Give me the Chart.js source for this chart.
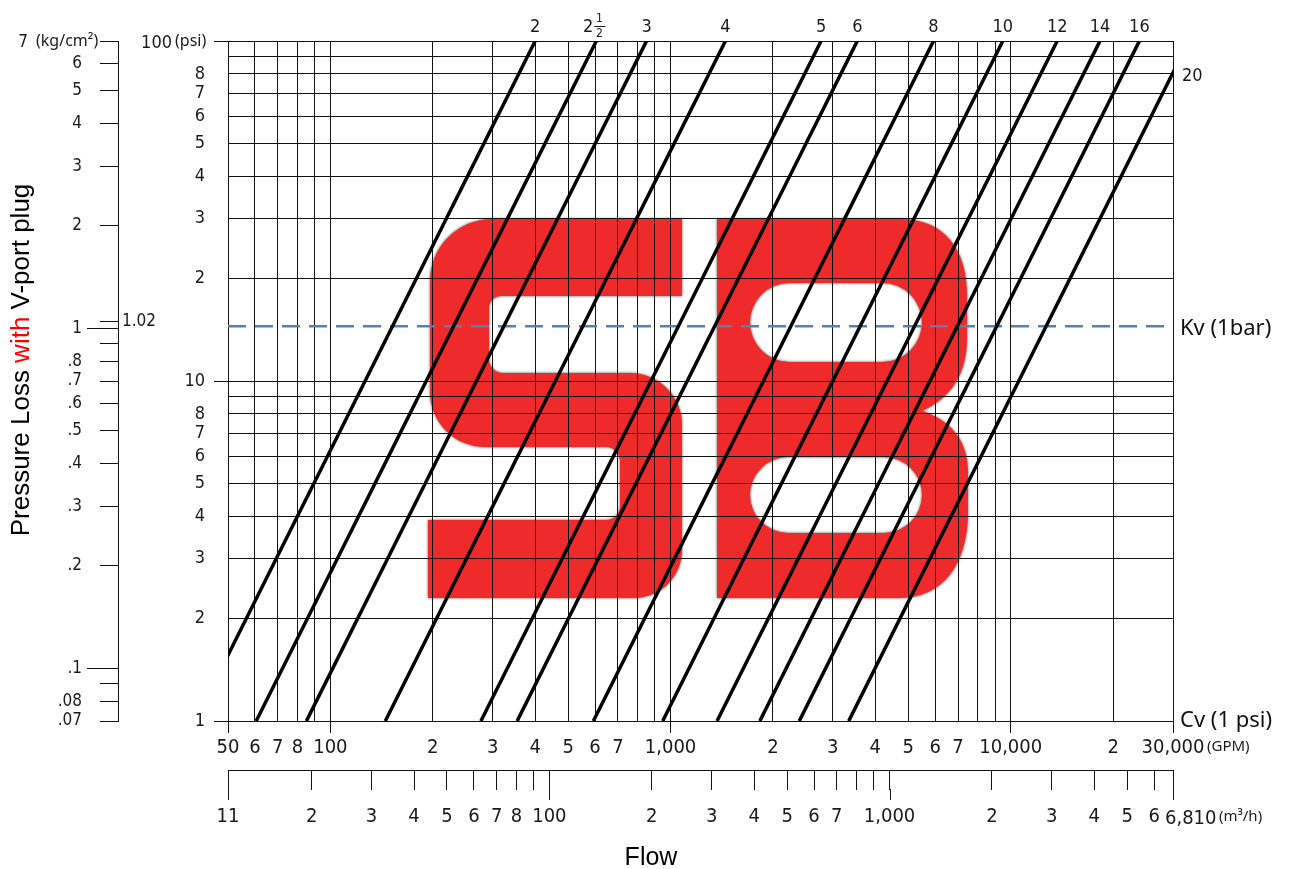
<!DOCTYPE html>
<html>
<head>
<meta charset="utf-8">
<title>Pressure Loss with V-port plug</title>
<script src="https://cdn.jsdelivr.net/npm/chart.js@4.4.0/dist/chart.umd.min.js"></script>
<style>
  html, body { margin: 0; padding: 0; background: #fff; }
  canvas { display: block; }
</style>
</head>
<body>
<canvas id="flowChart" width="1292" height="869"></canvas>
<script>
// valve sizes (inch) and their Cv = flow in GPM at 1 psi
const valveSizes = ['2', '2½', '3', '4', '5', '6', '8', '10', '12', '14', '16', '20'];
const cvValues = [40, 60.5, 85, 145, 277, 354, 593, 948, 1370, 1830, 2390, 3340];

// flow axis (GPM)
const gpmMin = 50;
const gpmMax = 30000;
const gpmTicks = [50, 60, 70, 80, 90, 100, 200, 300, 400, 500, 600, 700, 800, 900,
  1000, 2000, 3000, 4000, 5000, 6000, 7000, 8000, 9000, 10000, 20000, 30000];
const gpmLabels = ['50', '6', '7', '8', '', '100', '2', '3', '4', '5', '6', '7', '', '',
  '1,000', '2', '3', '4', '5', '6', '7', '', '', '10,000', '2', '30,000'];
const gpmLong = [50, 100, 1000, 10000, 30000];

// flow axis (m3/h)
const m3hMin = 11.356;
const m3hMax = 6813.7;
const m3hTicks = [11.356, 20, 30, 40, 50, 60, 70, 80, 90, 100, 200, 300, 400, 500, 600, 700, 800, 900,
  1000, 2000, 3000, 4000, 5000, 6000, 6813.7];
const m3hLabels = ['11', '2', '3', '4', '5', '6', '7', '8', '', '100', '2', '3', '4', '5', '6', '7', '', '',
  '1,000', '2', '3', '4', '5', '6', ''];
const m3hLong = [11.356, 100, 1000, 6813.7];

// pressure axis (psi)
const psiMin = 1;
const psiMax = 100;
const psiTicks = [1, 2, 3, 4, 5, 6, 7, 8, 9, 10, 20, 30, 40, 50, 60, 70, 80, 90, 100];
const psiLabels = ['1', '2', '3', '4', '5', '6', '7', '8', '', '10', '2', '3', '4', '5', '6', '7', '8', '', ''];
const psiLong = [1, 10, 100];

// pressure axis (kg/cm2)
const kgMin = 0.07;
const kgMax = 7;
const kgTicks = [0.07, 0.08, 0.09, 0.1, 0.2, 0.3, 0.4, 0.5, 0.6, 0.7, 0.8, 0.9, 1, 2, 3, 4, 5, 6, 7];
const kgLabels = ['.07', '.08', '', '.1', '.2', '.3', '.4', '.5', '.6', '.7', '.8', '', '1', '2', '3', '4', '5', '6', ''];
const kgLong = [1, 0.1];

// Kv reference line: 1 bar = 14.5 psi
const kvPsi = 14.5;

const CAD_FONT = '"DejaVu Sans Condensed", "DejaVu Sans", sans-serif';
const TEXT_FONT = '"Liberation Sans", Arial, sans-serif';
const NOTE_FONT = '"Noto Sans", "Open Sans", sans-serif';
const LINE_COLOR = '#111';

function stadium(ctx, l, t, r, b) {
    const rad = (b - t) / 2;
    ctx.moveTo(l + rad, t);
    ctx.lineTo(r - rad, t);
    ctx.arc(r - rad, t + rad, rad, -Math.PI / 2, Math.PI / 2);
    ctx.lineTo(l + rad, b);
    ctx.arc(l + rad, t + rad, rad, Math.PI / 2, Math.PI * 1.5);
    ctx.closePath();
}

// red "SB" watermark behind the grid
function drawLogo(ctx) {
    ctx.save();
    ctx.fillStyle = '#ef2a2a';
    ctx.shadowColor = 'rgba(30, 0, 0, 0.7)';
    ctx.shadowBlur = 3;

    ctx.beginPath();
    ctx.moveTo(682, 219);
    ctx.lineTo(682, 296);
    ctx.arcTo(489, 296, 489, 373, 12);
    ctx.arcTo(489, 373, 682, 373, 14);
    ctx.arcTo(682, 373, 682, 598, 52);
    ctx.arcTo(682, 598, 428, 598, 48);
    ctx.lineTo(428, 598);
    ctx.lineTo(428, 520);
    ctx.arcTo(620, 520, 620, 447, 14);
    ctx.arcTo(620, 447, 430, 447, 14);
    ctx.arcTo(430, 447, 430, 219, 55);
    ctx.arcTo(430, 219, 682, 219, 62);
    ctx.closePath();
    ctx.fill();

    ctx.beginPath();
    ctx.moveTo(717, 219);
    ctx.lineTo(900, 219);
    ctx.bezierCurveTo(945, 219, 967, 250, 967, 295);
    ctx.lineTo(967, 338);
    ctx.bezierCurveTo(967, 378, 947, 400, 922, 411);
    ctx.bezierCurveTo(950, 420, 968, 440, 968, 472);
    ctx.lineTo(968, 512);
    ctx.bezierCurveTo(968, 565, 942, 598, 900, 598);
    ctx.lineTo(717, 598);
    ctx.closePath();
    stadium(ctx, 750, 283, 922, 362);
    stadium(ctx, 750, 457, 922, 533);
    ctx.fill('evenodd');
    ctx.restore();
}

function text(ctx, str, x, y, font, align, baseline, color) {
    ctx.font = font;
    ctx.textAlign = align || 'left';
    ctx.textBaseline = baseline || 'middle';
    ctx.fillStyle = color || '#1a1a1a';
    ctx.fillText(str, x, y);
}

function seg(ctx, x1, y1, x2, y2) {
    ctx.beginPath();
    ctx.moveTo(x1, y1);
    ctx.lineTo(x2, y2);
    ctx.stroke();
}

const decorPlugin = {
    id: 'decor',
    beforeDraw(chart) {
        const ctx = chart.ctx;
        ctx.save();
        ctx.fillStyle = '#fff';
        ctx.fillRect(0, 0, chart.width, chart.height);
        ctx.restore();
        drawLogo(ctx);
    },
    afterDraw(chart) {
        const ctx = chart.ctx;
        const { x, y, yKg, x2 } = chart.scales;
        const area = chart.chartArea;
        ctx.save();
        ctx.strokeStyle = LINE_COLOR;
        ctx.lineWidth = 1;

        // longer ticks on the kg/cm2 axis and the 1.02 mark
        kgLong.forEach(v => {
            const py = Math.round(yKg.getPixelForValue(v)) + 0.5;
            seg(ctx, yKg.right - 31, py, yKg.right - 17, py);
        });
        const p102 = Math.round(yKg.getPixelForValue(1.02)) - 3.5;
        seg(ctx, yKg.right - 18, p102, yKg.right, p102);
        text(ctx, '1.02', yKg.right + 4, p102, '17px ' + CAD_FONT);

        // longer ticks on the m3/h axis
        m3hLong.forEach(v => {
            const px = Math.round(x2.getPixelForValue(v)) + 0.5;
            seg(ctx, px, x2.top + 19, px, x2.top + 30);
        });

        // unit labels
        const topKg = yKg.getPixelForValue(kgMax);
        text(ctx, '7', 28, topKg + 2, '17px ' + CAD_FONT, 'right');
        text(ctx, '(kg/cm²)', 36, topKg, '16px ' + NOTE_FONT, 'left');
        text(ctx, '100', 172, area.top + 2, '18px ' + CAD_FONT, 'right');
        text(ctx, '(psi)', 175, area.top, '16px ' + NOTE_FONT, 'left');
        text(ctx, '(GPM)', area.right + 34, 747, '15px ' + NOTE_FONT, 'left');
        text(ctx, '6,810', area.right - 8, 819, '20px ' + CAD_FONT, 'left');
        text(ctx, '(m³/h)', area.right + 46, 817, '15px ' + NOTE_FONT, 'left');

        // valve size labels at the top end of each line
        cvValues.forEach((cv, i) => {
            const topFlow = cv * Math.sqrt(psiMax);
            const label = valveSizes[i];
            if (topFlow <= x.max) {
                const px = x.getPixelForValue(topFlow);
                if (label === '2½') {
                    text(ctx, '2', px - 3, area.top - 14, '18px ' + CAD_FONT, 'right');
                    text(ctx, '1', px + 3, area.top - 22, '12px ' + CAD_FONT, 'center');
                    seg(ctx, px - 2, area.top - 14.5, px + 9, area.top - 14.5);
                    text(ctx, '2', px + 3, area.top - 7, '12px ' + CAD_FONT, 'center');
                } else {
                    text(ctx, label, px, area.top - 14, '18px ' + CAD_FONT, 'center');
                }
            } else {
                const py = y.getPixelForValue(Math.pow(x.max / cv, 2));
                text(ctx, label, area.right + 9, py + 4, '18px ' + CAD_FONT, 'left');
            }
        });

        // reference line labels
        text(ctx, 'Kv (1bar)', area.right + 7, y.getPixelForValue(kvPsi) + 3, '22px ' + NOTE_FONT, 'left', 'middle', '#111');
        text(ctx, 'Cv (1 psi)', area.right + 7, y.getPixelForValue(psiMin), '22px ' + NOTE_FONT, 'left', 'middle', '#111');

        // axis titles
        text(ctx, 'Flow', 651, 865, '25px ' + TEXT_FONT, 'center', 'alphabetic', '#000');
        ctx.translate(29, 360);
        ctx.rotate(-Math.PI / 2);
        ctx.font = '26px ' + TEXT_FONT;
        const parts = [['Pressure Loss ', '#000'], ['with', '#ff0000'], [' V-port plug', '#000']];
        const total = parts.reduce((s, p) => s + ctx.measureText(p[0]).width, 0);
        let cx = -total / 2;
        parts.forEach(p => {
            text(ctx, p[0], cx, 0, '26px ' + TEXT_FONT, 'left', 'alphabetic', p[1]);
            cx += ctx.measureText(p[0]).width;
        });
        ctx.restore();
    }
};

function setTicks(values) {
    return function (scale) {
        scale.ticks = values.map(v => ({ value: v }));
    };
}

function labelFrom(labels) {
    return function (value, index) {
        return labels[index];
    };
}

const sizeDatasets = cvValues.map((cv, i) => ({
    label: valveSizes[i],
    data: [{ x: cv, y: psiMin }, { x: cv * Math.sqrt(psiMax), y: psiMax }],
    showLine: true,
    borderColor: '#000',
    borderWidth: 3.5,
    pointRadius: 0,
    xAxisID: 'x',
    yAxisID: 'y'
}));

const kvDataset = {
    label: 'Kv (1bar)',
    data: [{ x: gpmMin, y: kvPsi }, { x: gpmMax, y: kvPsi }],
    showLine: true,
    borderColor: '#4f81bd',
    borderWidth: 2.5,
    borderDash: [18, 9],
    pointRadius: 0,
    xAxisID: 'x',
    yAxisID: 'y'
};

new Chart(document.getElementById('flowChart'), {
    type: 'scatter',
    data: { datasets: sizeDatasets.concat([kvDataset]) },
    options: {
        responsive: false,
        devicePixelRatio: 1,
        animation: false,
        layout: { padding: { left: 0, right: 119, top: 41, bottom: 39 } },
        plugins: { legend: { display: false }, tooltip: { enabled: false } },
        scales: {
            x: {
                type: 'logarithmic',
                position: 'bottom',
                min: gpmMin,
                max: gpmMax,
                afterBuildTicks: setTicks(gpmTicks),
                afterFit: scale => { scale.height = 49; },
                grid: {
                    color: LINE_COLOR,
                    lineWidth: 1,
                    tickLength: 12,
                    tickColor: c => gpmLong.includes(c.tick && c.tick.value) ? LINE_COLOR : 'rgba(0,0,0,0)'
                },
                border: { display: true, color: LINE_COLOR },
                ticks: {
                    autoSkip: false,
                    maxRotation: 0,
                    padding: 3,
                    color: '#1a1a1a',
                    font: { family: CAD_FONT, size: 20 },
                    callback: labelFrom(gpmLabels)
                }
            },
            x2: {
                type: 'logarithmic',
                position: 'bottom',
                weight: 1,
                min: m3hMin,
                max: m3hMax,
                afterBuildTicks: setTicks(m3hTicks),
                afterFit: scale => { scale.height = 60; },
                grid: { drawOnChartArea: false, color: LINE_COLOR, tickLength: 20 },
                border: { display: true, color: LINE_COLOR },
                ticks: {
                    autoSkip: false,
                    maxRotation: 0,
                    padding: 15,
                    color: '#1a1a1a',
                    font: { family: CAD_FONT, size: 20 },
                    callback: labelFrom(m3hLabels)
                }
            },
            y: {
                type: 'logarithmic',
                position: 'left',
                min: psiMin,
                max: psiMax,
                afterBuildTicks: setTicks(psiTicks),
                afterFit: scale => { scale.width = 110; },
                grid: {
                    color: LINE_COLOR,
                    lineWidth: 1,
                    tickLength: 14,
                    tickColor: c => psiLong.includes(c.tick && c.tick.value) ? LINE_COLOR : 'rgba(0,0,0,0)'
                },
                border: { display: true, color: LINE_COLOR },
                ticks: {
                    autoSkip: false,
                    padding: 9,
                    color: '#1a1a1a',
                    font: { family: CAD_FONT, size: 18 },
                    callback: labelFrom(psiLabels)
                }
            },
            yKg: {
                type: 'logarithmic',
                position: 'left',
                weight: 1,
                min: kgMin,
                max: kgMax,
                afterBuildTicks: setTicks(kgTicks),
                afterFit: scale => { scale.width = 118; },
                grid: { drawOnChartArea: false, color: LINE_COLOR, tickLength: 18 },
                border: { display: true, color: LINE_COLOR },
                ticks: {
                    autoSkip: false,
                    padding: 18,
                    color: '#1a1a1a',
                    font: { family: CAD_FONT, size: 17 },
                    callback: labelFrom(kgLabels)
                }
            }
        }
    },
    plugins: [decorPlugin]
});
</script>
</body>
</html>
